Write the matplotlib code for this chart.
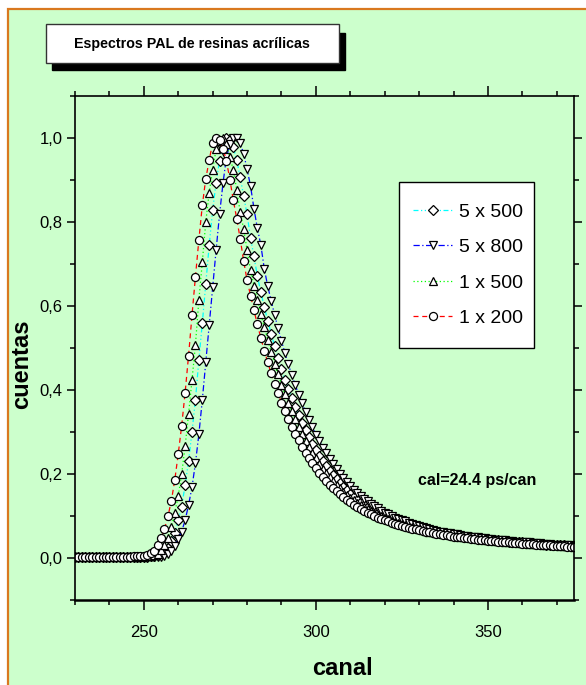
import numpy as np
import matplotlib
matplotlib.use("Agg")
import matplotlib.pyplot as plt
from matplotlib.patches import Rectangle
from matplotlib.ticker import MultipleLocator, FixedLocator, FuncFormatter

# ---------- Data (one value per channel) ----------
canal = np.arange(230, 376)

c_5x500 = [
    0.003, 0.003, 0.003, 0.002, 0.003, 0.003, 0.003, 0.002, 0.003, 0.003,
    0.002, 0.003, 0.003, 0.003, 0.002, 0.003, 0.003, 0.003, 0.002, 0.003,
    0.003, 0.003, 0.004, 0.004, 0.006, 0.009, 0.015, 0.025, 0.040, 0.060,
    0.090, 0.122, 0.174, 0.231, 0.300, 0.377, 0.472, 0.560, 0.652, 0.745,
    0.828, 0.894, 0.946, 0.980, 1.000, 0.995, 0.978, 0.947, 0.906, 0.863,
    0.818, 0.763, 0.718, 0.671, 0.633, 0.598, 0.565, 0.534, 0.504, 0.476,
    0.450, 0.425, 0.402, 0.380, 0.359, 0.340, 0.321, 0.304, 0.288, 0.272,
    0.258, 0.244, 0.231, 0.219, 0.208, 0.197, 0.187, 0.178, 0.169, 0.161,
    0.153, 0.146, 0.139, 0.133, 0.127, 0.122, 0.117, 0.112, 0.107, 0.103,
    0.099, 0.095, 0.092, 0.089, 0.086, 0.083, 0.080, 0.078, 0.075, 0.073,
    0.071, 0.069, 0.067, 0.065, 0.063, 0.062, 0.060, 0.059, 0.057, 0.056,
    0.055, 0.053, 0.052, 0.051, 0.050, 0.049, 0.048, 0.047, 0.046, 0.045,
    0.044, 0.043, 0.042, 0.042, 0.041, 0.040, 0.039, 0.039, 0.038, 0.037,
    0.037, 0.036, 0.035, 0.035, 0.034, 0.033, 0.033, 0.032, 0.032, 0.031,
    0.031, 0.030, 0.030, 0.029, 0.029, 0.028,
]

c_5x800 = [
    0.002, 0.002, 0.003, 0.002, 0.002, 0.002, 0.003, 0.002, 0.002, 0.002,
    0.003, 0.002, 0.002, 0.002, 0.003, 0.002, 0.002, 0.002, 0.002, 0.003,
    0.002, 0.002, 0.003, 0.003, 0.003, 0.003, 0.005, 0.010, 0.017, 0.028,
    0.045, 0.063, 0.090, 0.126, 0.169, 0.226, 0.295, 0.377, 0.466, 0.555,
    0.645, 0.733, 0.818, 0.892, 0.954, 0.985, 1.000, 0.999, 0.987, 0.963,
    0.926, 0.886, 0.832, 0.785, 0.745, 0.689, 0.647, 0.613, 0.579, 0.547,
    0.517, 0.488, 0.461, 0.436, 0.412, 0.389, 0.368, 0.348, 0.329, 0.311,
    0.294, 0.278, 0.263, 0.249, 0.236, 0.223, 0.211, 0.200, 0.190, 0.180,
    0.171, 0.163, 0.155, 0.148, 0.141, 0.135, 0.129, 0.123, 0.118, 0.113,
    0.108, 0.104, 0.100, 0.096, 0.093, 0.090, 0.087, 0.084, 0.081, 0.078,
    0.076, 0.073, 0.071, 0.069, 0.067, 0.065, 0.063, 0.062, 0.060, 0.059,
    0.057, 0.056, 0.054, 0.053, 0.052, 0.051, 0.050, 0.049, 0.048, 0.047,
    0.046, 0.045, 0.044, 0.043, 0.042, 0.042, 0.041, 0.040, 0.039, 0.039,
    0.038, 0.037, 0.037, 0.036, 0.035, 0.035, 0.034, 0.034, 0.033, 0.032,
    0.032, 0.031, 0.031, 0.030, 0.030, 0.029,
]

c_1x500 = [
    0.003, 0.002, 0.003, 0.003, 0.002, 0.003, 0.003, 0.002, 0.003, 0.003,
    0.003, 0.002, 0.003, 0.003, 0.003, 0.002, 0.003, 0.003, 0.003, 0.003,
    0.004, 0.004, 0.005, 0.006, 0.010, 0.018, 0.030, 0.048, 0.074, 0.108,
    0.148, 0.200, 0.266, 0.343, 0.424, 0.508, 0.615, 0.705, 0.800, 0.870,
    0.924, 0.973, 0.993, 1.000, 0.985, 0.955, 0.924, 0.876, 0.823, 0.784,
    0.733, 0.686, 0.648, 0.614, 0.581, 0.549, 0.519, 0.490, 0.463, 0.437,
    0.413, 0.390, 0.369, 0.349, 0.330, 0.312, 0.295, 0.279, 0.264, 0.250,
    0.237, 0.225, 0.213, 0.202, 0.192, 0.183, 0.174, 0.166, 0.158, 0.151,
    0.144, 0.138, 0.132, 0.126, 0.121, 0.116, 0.111, 0.107, 0.103, 0.099,
    0.095, 0.092, 0.089, 0.086, 0.083, 0.080, 0.078, 0.075, 0.073, 0.071,
    0.069, 0.067, 0.065, 0.063, 0.062, 0.060, 0.059, 0.057, 0.056, 0.054,
    0.053, 0.052, 0.051, 0.050, 0.049, 0.048, 0.047, 0.046, 0.045, 0.044,
    0.043, 0.042, 0.041, 0.041, 0.040, 0.039, 0.038, 0.038, 0.037, 0.036,
    0.036, 0.035, 0.034, 0.034, 0.033, 0.033, 0.032, 0.031, 0.031, 0.030,
    0.030, 0.029, 0.029, 0.028, 0.028, 0.027,
]

c_1x200 = [
    0.003, 0.003, 0.002, 0.003, 0.003, 0.002, 0.003, 0.003, 0.003, 0.002,
    0.003, 0.003, 0.003, 0.002, 0.003, 0.003, 0.003, 0.004, 0.004, 0.004,
    0.005, 0.008, 0.012, 0.017, 0.031, 0.047, 0.069, 0.099, 0.136, 0.186,
    0.248, 0.315, 0.394, 0.482, 0.578, 0.670, 0.758, 0.840, 0.903, 0.947,
    0.989, 1.000, 0.995, 0.975, 0.946, 0.901, 0.852, 0.808, 0.760, 0.708,
    0.661, 0.625, 0.590, 0.556, 0.524, 0.494, 0.466, 0.440, 0.415, 0.392,
    0.370, 0.350, 0.331, 0.313, 0.296, 0.280, 0.265, 0.251, 0.238, 0.226,
    0.214, 0.203, 0.193, 0.184, 0.175, 0.167, 0.159, 0.152, 0.145, 0.139,
    0.133, 0.127, 0.122, 0.117, 0.112, 0.108, 0.104, 0.100, 0.096, 0.093,
    0.090, 0.087, 0.084, 0.081, 0.078, 0.076, 0.074, 0.072, 0.070, 0.068,
    0.066, 0.064, 0.062, 0.061, 0.059, 0.058, 0.056, 0.055, 0.054, 0.052,
    0.051, 0.050, 0.049, 0.048, 0.047, 0.046, 0.045, 0.044, 0.043, 0.042,
    0.041, 0.040, 0.040, 0.039, 0.038, 0.038, 0.037, 0.036, 0.036, 0.035,
    0.034, 0.034, 0.033, 0.033, 0.032, 0.031, 0.031, 0.030, 0.030, 0.029,
    0.029, 0.028, 0.028, 0.027, 0.027, 0.026,
]

labels  = ["5 x 500", "5 x 800", "1 x 500", "1 x 200"]
series  = [c_5x500, c_5x800, c_1x500, c_1x200]
colors  = ["#00FFFF", "#0000FF", "#00FF00", "#FF0000"]
markers = ["D", "v", "^", "o"]
dashes  = [(0, (4, 2, 1, 2, 1, 2)), (0, (5, 2, 1, 2)), (0, (1, 2)), (0, (4, 3))]
msizes  = [4.8, 6.2, 6.2, 5.8]

# ---------- Style ----------
W, H = 586, 685
BG = "#CCFFCC"
FONT = ["Liberation Sans", "DejaVu Sans"]


def fx(x):
    return x / W


def fy(y):
    return 1 - y / H


fig = plt.figure(figsize=(W / 100, H / 100), dpi=100)
fig.patch.set_facecolor("white")
fig.patches.append(Rectangle((fx(7.5), -0.02), 1.1, fy(8.5) + 0.02,
                             transform=fig.transFigure, facecolor=BG,
                             edgecolor="#D9781F", linewidth=1.6, zorder=-10))

ax = fig.add_axes([fx(75), fy(600), fx(574) - fx(75), fy(96) - fy(600)])
ax.set_zorder(1)
ax.set_facecolor(BG)

for lab, y, c, m, ls, ms in zip(labels, series, colors, markers, dashes, msizes):
    ax.plot(canal, y, linestyle=ls, color=c, linewidth=0.9, marker=m,
            markersize=ms, markerfacecolor="white", markeredgecolor="black",
            markeredgewidth=0.9, label=lab)

ax.set_xlim(230, 375)
ax.set_ylim(-0.1, 1.1)
ax.xaxis.set_major_locator(FixedLocator([250, 300, 350]))
ax.xaxis.set_minor_locator(MultipleLocator(10))
ax.yaxis.set_major_locator(FixedLocator([0.0, 0.2, 0.4, 0.6, 0.8, 1.0]))
ax.yaxis.set_minor_locator(MultipleLocator(0.1))
ax.yaxis.set_major_formatter(FuncFormatter(lambda v, p: f"{v:.1f}".replace(".", ",")))

ax.tick_params(which="both", direction="out", top=True, right=True,
               labeltop=False, labelright=False, width=1.1, color="black")
ax.tick_params(which="major", length=6)
ax.tick_params(which="minor", length=3.5)
ax.tick_params(axis="x", which="major", length=7, pad=11)
ax.tick_params(axis="y", which="major", pad=3)
for t in ax.get_xticklabels() + ax.get_yticklabels():
    t.set_family(FONT)
    t.set_fontsize(12)
for s in ax.spines.values():
    s.set_linewidth(1.2)
ax.spines["bottom"].set_linewidth(1.8)

ax.set_xlabel("canal", family=FONT, fontweight="bold", fontsize=17, va="center")
ax.set_ylabel("cuentas", family=FONT, fontweight="bold", fontsize=17, va="center")
ax.xaxis.set_label_coords(0.535, -0.135)
ax.yaxis.set_label_coords(-0.106, 0.468)

ax.text(347, 0.185, "cal=24.4 ps/can", family=FONT, fontweight="bold",
        fontsize=11.5, ha="center", va="center")

# legend: white box drawn separately so its size matches the reference
ax.add_patch(Rectangle((fx(399), fy(348)), fx(534) - fx(399), fy(182) - fy(348),
                       transform=fig.transFigure, facecolor="white",
                       edgecolor="black", linewidth=1.0, zorder=4))
leg = ax.legend(loc="center", bbox_to_anchor=(fx(468), fy(265)),
                bbox_transform=fig.transFigure, prop={"family": FONT, "size": 14},
                frameon=False, borderpad=0.2, labelspacing=0.92, handlelength=2.0,
                handletextpad=0.35, borderaxespad=0)
leg.set_zorder(5)

# ---------- Title box with drop shadow ----------
fig.patches.append(Rectangle((fx(52), fy(70)), fx(345) - fx(52), fy(33) - fy(70),
                             transform=fig.transFigure, facecolor="black",
                             edgecolor="black", zorder=2))
fig.patches.append(Rectangle((fx(46), fy(63)), fx(339) - fx(46), fy(24) - fy(63),
                             transform=fig.transFigure, facecolor="white",
                             edgecolor="#333333", linewidth=1.0, zorder=3))
fig.text(fx(192), fy(44), "Espectros PAL de resinas acrílicas", family=FONT,
         fontweight="bold", fontsize=10.3, ha="center", va="center", zorder=4)

fig.savefig("out.png", dpi=100, facecolor=fig.get_facecolor())
